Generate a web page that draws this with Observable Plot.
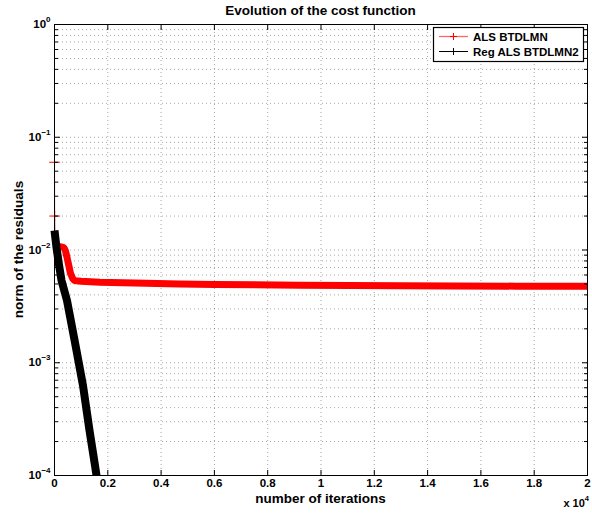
<!DOCTYPE html>
<html>
<head>
<meta charset="utf-8">
<script src="https://cdn.jsdelivr.net/npm/d3@7"></script>
<script src="https://cdn.jsdelivr.net/npm/@observablehq/plot@0.6"></script>
<style>
  html, body { margin: 0; padding: 0; background: #fff; }
  #chart svg { display: block; }
</style>
</head>
<body>
<div id="chart"></div>
<script>
// ---- data ----
const titleText = "Evolution of the cost function";
const xLabelText = "number of iterations";
const yLabelText = "norm of the residuals";
const seriesNames = ["ALS BTDLMN", "Reg ALS BTDLMN2"];
const seriesColors = ["#ff0000", "#000000"];

// red series: ALS BTDLMN
const redIter  = [1, 5, 20, 100, 300, 360, 413, 470, 540, 600, 680, 750, 1000, 1700, 3000, 4700, 6000, 9200, 13000, 17300, 20000];
const redValue = [0.06, 0.02, 0.0112, 0.0108, 0.0106, 0.0104, 0.0098, 0.0086, 0.0072, 0.0062, 0.0056, 0.00535, 0.00528, 0.00518, 0.0051, 0.0050, 0.00494, 0.00487, 0.00482, 0.00478, 0.00476];

// black series: Reg ALS BTDLMN2
const blackIter  = [0, 75, 161, 263, 469, 769, 1069, 1313, 1538, 1576];
const blackValue = [0.0149, 0.01052, 0.00759, 0.00537, 0.00357, 0.00151, 0.000628, 0.000251, 0.000115, 0.0001];

// axes
const xTicks = [0, 2000, 4000, 6000, 8000, 10000, 12000, 14000, 16000, 18000, 20000];
const xTickLabels = ["0", "0.2", "0.4", "0.6", "0.8", "1", "1.2", "1.4", "1.6", "1.8", "2"];
const xMultiplierBase = "x 10";
const xMultiplierExp = "4";
const yMajor = [1e-4, 1e-3, 1e-2, 1e-1, 1];
const yTickBase = "10";
const yTickExps = ["−4", "−3", "−2", "−1", "0"];
const yMinorFactors = [2, 3, 4, 5, 6, 7, 8, 9];

// ---- derived tables ----
const red = redIter.map((it, i) => ({iter: it, value: redValue[i]}));
const redThick = red.filter(d => d.iter >= 20);
const redHead = red.filter(d => d.iter < 20);
const black = blackIter.map((it, i) => ({iter: it, value: blackValue[i]}));
const yMinor = [];
for (let k = 0; k < yMajor.length - 1; k++) for (const f of yMinorFactors) yMinor.push(yMajor[k] * f);
const yGrid = [...yMajor.slice(1, -1), ...yMinor];
const xLabelOf = new Map(xTicks.map((t, i) => [t, xTickLabels[i]]));
const yExpOf = new Map(yMajor.map((t, i) => [t, yTickExps[i]]));

const FONT = "'Liberation Sans', Arial, Helvetica, sans-serif";
const W = 592, H = 513;
const mL = 54, mR = 5, mT = 24, mB = 38;

const dotted = {stroke: "#000", strokeOpacity: 0.35, strokeDasharray: "1,3", strokeWidth: 1};
const noText = () => "";

const chart = Plot.plot({
  width: W, height: H,
  marginLeft: mL, marginRight: mR, marginTop: mT, marginBottom: mB,
  style: {fontFamily: FONT, fontSize: "11.5px", fontWeight: "bold", color: "#000", background: "#fff", overflow: "visible"},
  x: {domain: [0, 20000]},
  y: {type: "log", domain: [1e-4, 1]},
  marks: [
    Plot.gridX(xTicks.slice(1, -1), dotted),
    Plot.gridY(yGrid, dotted),
    Plot.line(red, {x: "iter", y: "value", stroke: seriesColors[0], strokeWidth: 1}),
    Plot.line(redThick, {x: "iter", y: "value", stroke: seriesColors[0], strokeWidth: 7, strokeLinecap: "butt", strokeLinejoin: "round"}),
    Plot.dot(redHead, {x: "iter", y: "value", symbol: "plus", r: 3.5, stroke: seriesColors[0], strokeWidth: 1}),
    Plot.line(black, {x: "iter", y: "value", stroke: seriesColors[1], strokeWidth: 8, strokeLinecap: "butt", strokeLinejoin: "round"}),
    Plot.frame({stroke: "#000", strokeWidth: 1}),
    // tick labels
    Plot.axisX({ticks: xTicks, anchor: "bottom", tickSize: 0, tickPadding: 3, tickFormat: d => xLabelOf.get(d), label: null}),
    Plot.axisY({ticks: yMajor, anchor: "left", tickSize: 0, tickPadding: 4, tickFormat: d => yExpOf.get(d), label: null}),
    // inward tick marks
    Plot.axisX({ticks: xTicks, anchor: "bottom", tickSize: -5, tickFormat: noText, label: null}),
    Plot.axisX({ticks: xTicks, anchor: "top", tickSize: -5, tickFormat: noText, label: null}),
    Plot.axisY({ticks: yMajor, anchor: "left", tickSize: -6, tickFormat: noText, label: null}),
    Plot.axisY({ticks: yMajor, anchor: "right", tickSize: -6, tickFormat: noText, label: null}),
    Plot.axisY({ticks: yMinor, anchor: "left", tickSize: -4, tickFormat: noText, label: null}),
    Plot.axisY({ticks: yMinor, anchor: "right", tickSize: -4, tickFormat: noText, label: null})
  ]
});

document.getElementById("chart").appendChild(chart);
const svg = d3.select(chart);

// rebuild y tick labels as 10 with superscript exponent
svg.selectAll('g[aria-label="y-axis tick label"] text').each(function() {
  const t = d3.select(this);
  const exp = t.text();
  if (!exp) return;
  t.text(null);
  t.append("tspan").text(yTickBase);
  t.append("tspan").attr("dy", "-6").attr("font-size", "8px").text(exp);
});

const plotCx = mL + (W - mL - mR) / 2;
const plotCy = mT + (H - mT - mB) / 2;
const LABEL_SIZE = "13.5px";

// title
svg.append("text").attr("x", plotCx).attr("y", 15).attr("text-anchor", "middle")
  .attr("font-family", FONT).attr("font-weight", "bold").attr("font-size", LABEL_SIZE).text(titleText);
// x label
svg.append("text").attr("x", plotCx).attr("y", 503).attr("text-anchor", "middle")
  .attr("font-family", FONT).attr("font-weight", "bold").attr("font-size", LABEL_SIZE).text(xLabelText);
// y label
svg.append("text").attr("transform", `translate(22.5,${plotCy}) rotate(-90)`).attr("text-anchor", "middle")
  .attr("font-family", FONT).attr("font-weight", "bold").attr("font-size", LABEL_SIZE).text(yLabelText);
// x multiplier
const mult = svg.append("text").attr("x", 589).attr("y", 507).attr("text-anchor", "end")
  .attr("font-family", FONT).attr("font-weight", "bold").attr("font-size", "11px");
mult.append("tspan").text(xMultiplierBase);
mult.append("tspan").attr("dy", "-6").attr("font-size", "7.5px").text(xMultiplierExp);

// legend
const lg = svg.append("g").attr("font-family", FONT).attr("font-weight", "bold").attr("font-size", "11.5px")
  .attr("text-anchor", "start");
lg.append("rect").attr("x", 433.5).attr("y", 27.5).attr("width", 150).attr("height", 34)
  .style("fill", "#fff").style("stroke", "#000").style("stroke-width", "1.2px");
const rowY = [36.5, 51.5];
seriesNames.forEach((name, i) => {
  const y = rowY[i], c = seriesColors[i];
  lg.append("path").attr("d", `M439,${y}H468`).style("stroke", c).style("stroke-width", i === 0 ? "1.3px" : "1px")
    .style("stroke-opacity", i === 0 ? 0.6 : 1).style("fill", "none");
  lg.append("path").attr("d", `M${453.5 - 3.5},${y}H${453.5 + 3.5}M453.5,${y - 3.5}V${y + 3.5}`)
    .style("stroke", c).style("stroke-width", "1px").style("fill", "none");
  lg.append("text").attr("x", 473).attr("y", y + 4).attr("text-anchor", "start").style("fill", "#000").text(name);
});
</script>
</body>
</html>
